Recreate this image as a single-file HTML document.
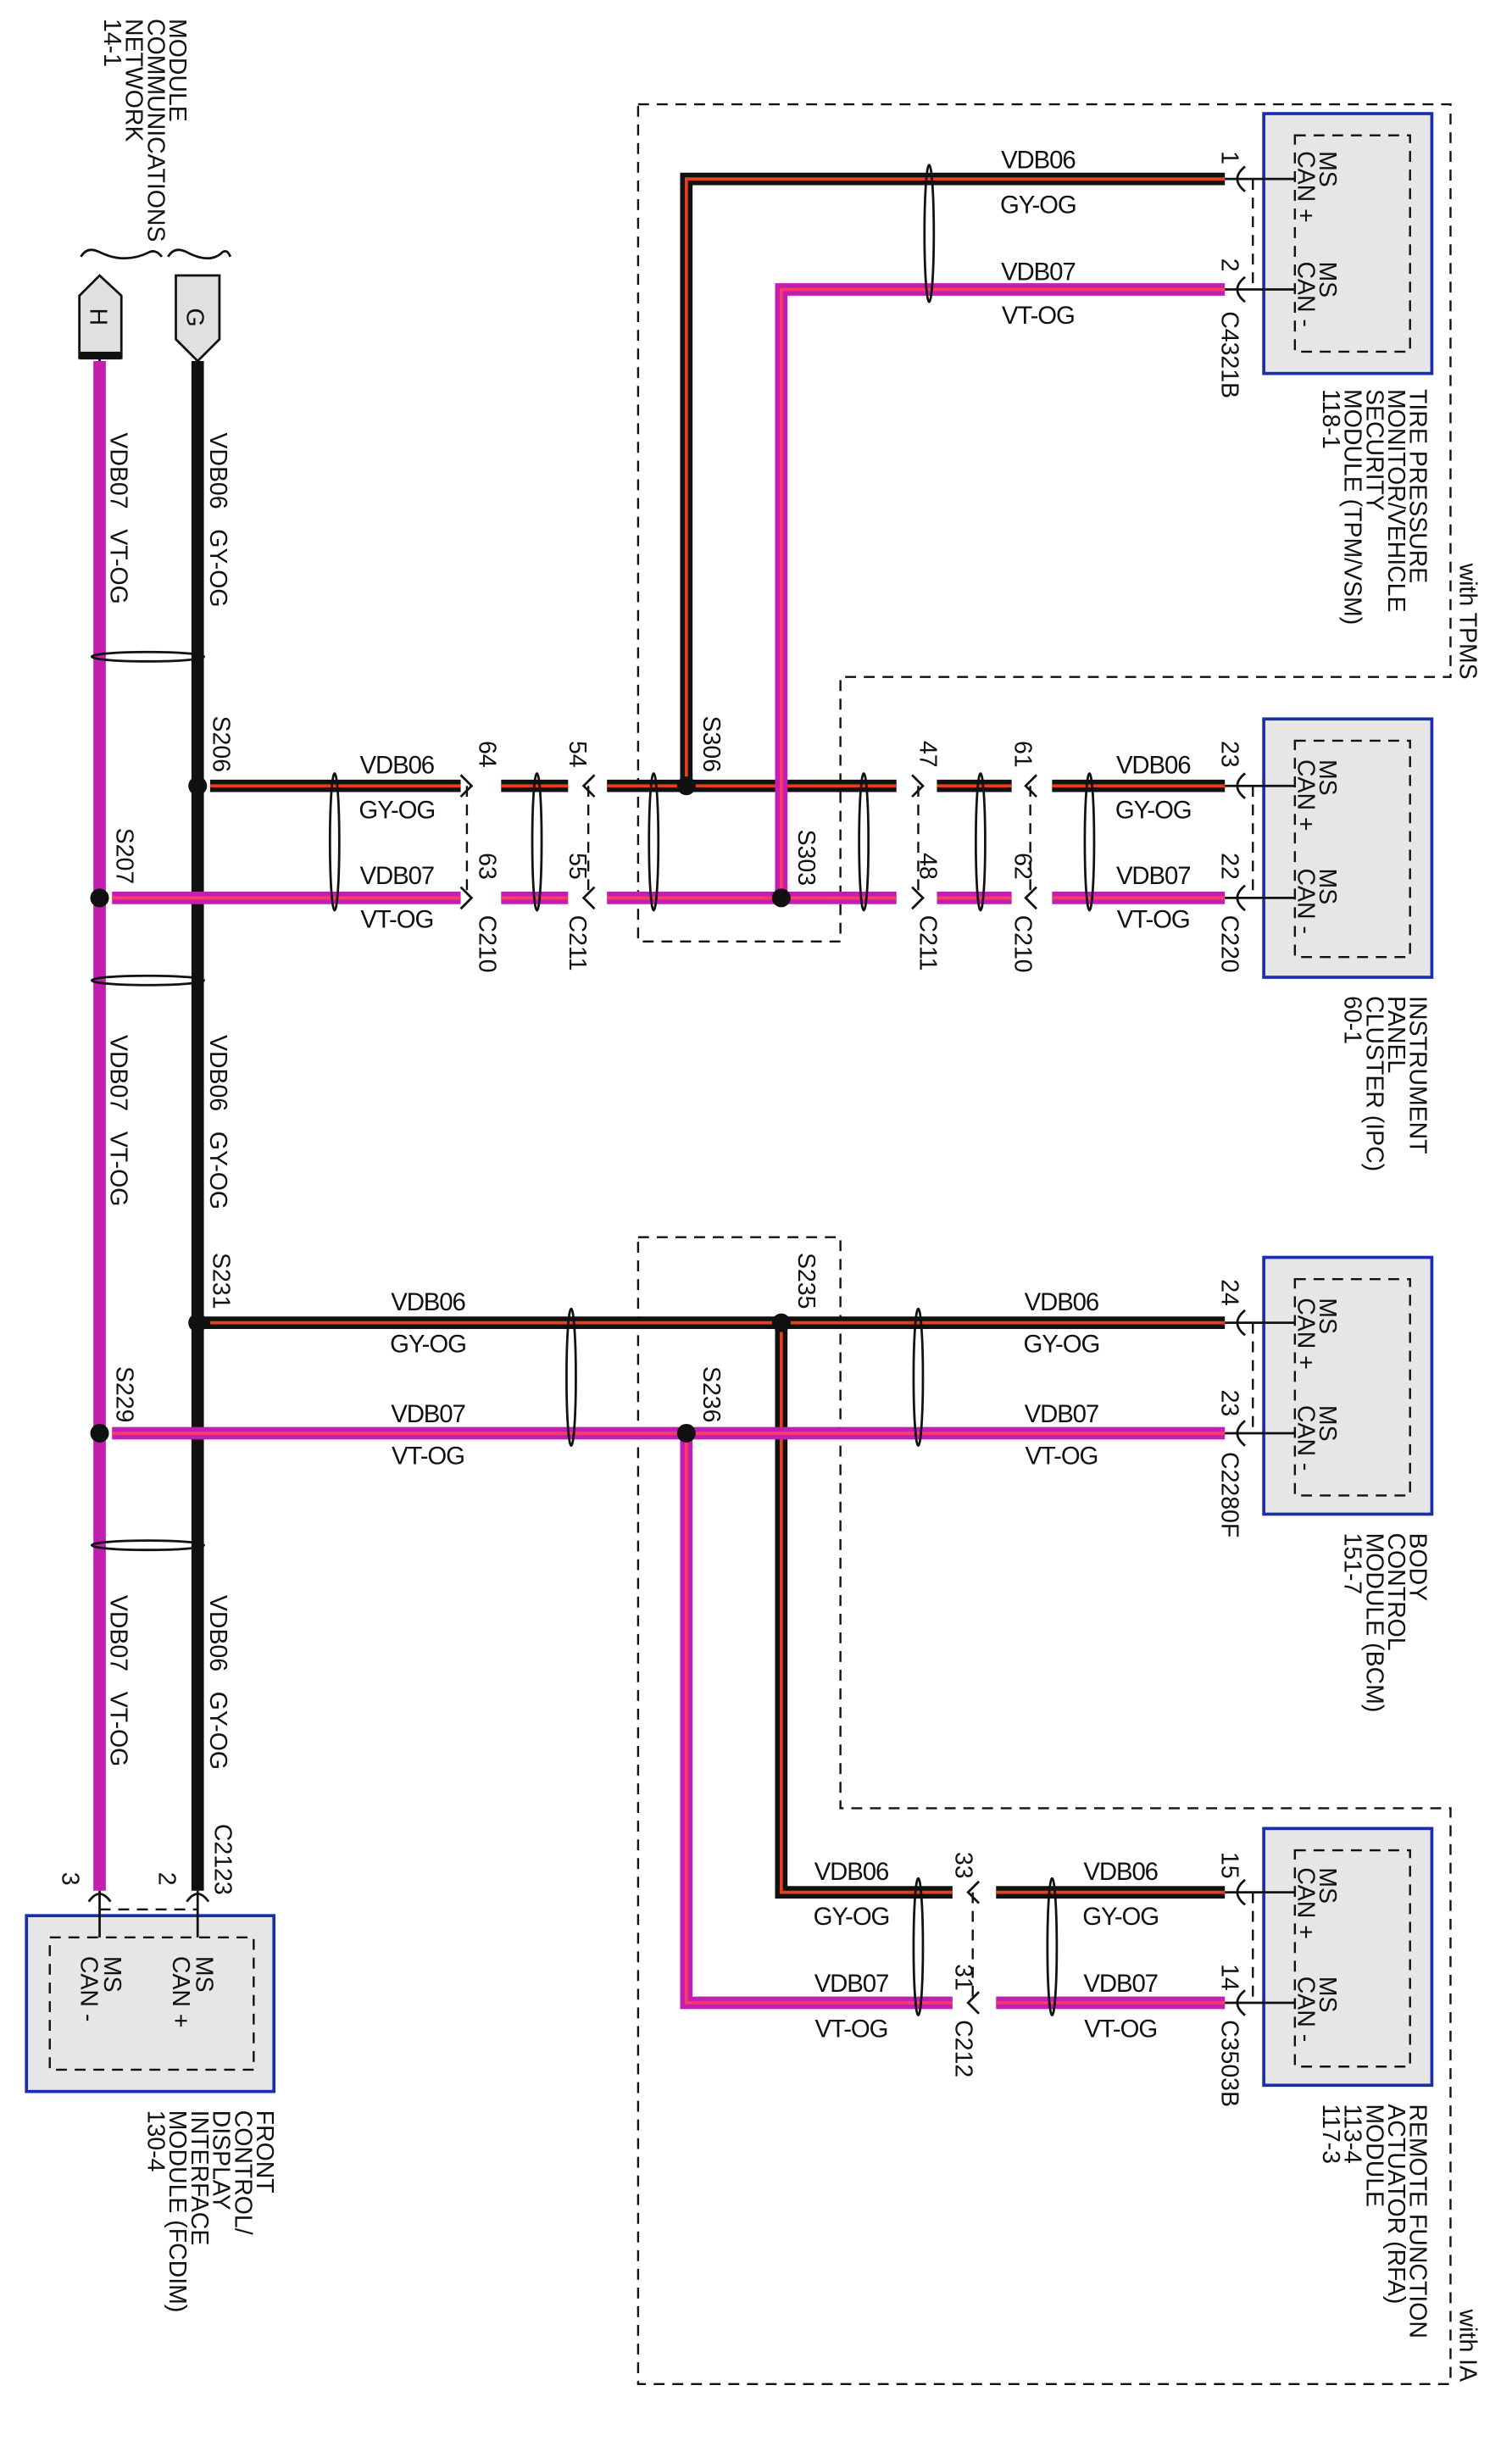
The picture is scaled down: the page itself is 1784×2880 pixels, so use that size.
<!DOCTYPE html>
<html><head><meta charset="utf-8"><style>
html,body{margin:0;padding:0;background:#fff;}
svg{display:block;}
text{font-family:"Liberation Sans",sans-serif;fill:#111;}
.w{font-size:16px;letter-spacing:-0.6px;}
.r{font-size:15.5px;}
</style></head><body>
<svg width="1784" height="2880" viewBox="0 0 971.5 1568.6" preserveAspectRatio="none" xmlns="http://www.w3.org/2000/svg">
<g fill="none" stroke="#111" stroke-width="1.3" stroke-dasharray="7,5">
<path d="M410,67 H932 V435 H540 V605 H410 Z"/>
<path d="M410,795 H540 V1162 H932 V1532 H410 Z"/>
<path d="M300,505 V577 M378,505 V577 M590,505 V577 M662,505 V577 M805,505 V577 M805,115 V186 M805,850 V921 M805,1216 V1287 M625,1216 V1287 M64,1227 H127"/>
</g>
<g fill="#e6e6e6" stroke="#1a2db0" stroke-width="2">
<rect x="812" y="73" width="108" height="167"/>
<rect x="812" y="462" width="108" height="166"/>
<rect x="812" y="808" width="108" height="165"/>
<rect x="812" y="1175" width="108" height="165"/>
<rect x="17" y="1231" width="159" height="113"/>
</g>
<g fill="none" stroke="#111" stroke-width="1.3" stroke-dasharray="7,5">
<rect x="832" y="87" width="74" height="139"/>
<rect x="832" y="476" width="74" height="139"/>
<rect x="832" y="822" width="74" height="139"/>
<rect x="832" y="1189" width="74" height="139"/>
<rect x="32" y="1245" width="131" height="85"/>
</g>
<g fill="none" stroke-linejoin="miter">
<g stroke="#111" stroke-width="8">
<path d="M127,232 V1215"/>
<path d="M135,505 H296 M322,505 H365 M390,505 H576 M602,505 H650 M676,505 H787"/>
<path d="M441,505 V115 H787"/>
<path d="M127,850 H787"/>
<path d="M502,850 V1216 H612 M640,1216 H787"/>
</g>
<g stroke="#e8401c" stroke-width="2">
<path d="M135,505 H296 M322,505 H365 M390,505 H576 M602,505 H650 M676,505 H787"/>
<path d="M441,505 V115 H787"/>
<path d="M135,850 H787"/>
<path d="M502,850 V1216 H612 M640,1216 H787"/>
</g>
<g stroke="#c21fb0" stroke-width="8">
<path d="M64,232 V1215"/>
<path d="M72,577 H296 M322,577 H365 M390,577 H576 M602,577 H650 M676,577 H787"/>
<path d="M502,577 V186 H787"/>
<path d="M72,921 H787"/>
<path d="M441,921 V1287 H612 M640,1287 H787"/>
</g>
<g stroke="#ff3a6a" stroke-width="2">
<path d="M72,577 H296 M322,577 H365 M390,577 H576 M602,577 H650 M676,577 H787"/>
<path d="M502,577 V186 H787"/>
<path d="M72,921 H787"/>
<path d="M441,921 V1287 H612 M640,1287 H787"/>
</g>
</g>
<g stroke="#111" stroke-width="1.5" fill="none">
<path d="M787,115 H832 M787,186 H832 M787,505 H832 M787,577 H832 M787,850 H832 M787,921 H832 M787,1216 H832 M787,1287 H832"/>
<path d="M64,1215 V1245 M127,1215 V1245"/>
<path d="M127,215 V232 M64,215 V232"/>
<path d="M800,107 Q790,115 800,123 M800,178 Q790,186 800,194 M800,497 Q790,505 800,513 M800,569 Q790,577 800,585 M800,842 Q790,850 800,858 M800,913 Q790,921 800,929 M800,1208 Q790,1216 800,1224 M800,1279 Q790,1287 800,1295"/>
<path d="M296,498 L303,505 L296,512 M296,570 L303,577 L296,584 M382,498 L375,505 L382,512 M382,570 L375,577 L382,584 M586,498 L593,505 L586,512 M586,570 L593,577 L586,584 M666,498 L659,505 L666,512 M666,570 L659,577 L666,584 M629,1209 L622,1216 L629,1223 M629,1280 L622,1287 L629,1294"/>
<path d="M57,1222 Q64,1212 71,1222 M120,1222 Q127,1212 134,1222"/>
<ellipse cx="215" cy="541" rx="3" ry="44"/><ellipse cx="345" cy="541" rx="3" ry="44"/>
<ellipse cx="420" cy="541" rx="3" ry="44"/><ellipse cx="555" cy="541" rx="3" ry="44"/>
<ellipse cx="630" cy="541" rx="3" ry="44"/><ellipse cx="700" cy="541" rx="3" ry="44"/>
<ellipse cx="597" cy="150" rx="3" ry="44"/>
<ellipse cx="367" cy="885" rx="3" ry="44"/><ellipse cx="590" cy="885" rx="3" ry="44"/>
<ellipse cx="590" cy="1251" rx="3" ry="44"/><ellipse cx="676" cy="1251" rx="3" ry="44"/>
<ellipse cx="95" cy="422" rx="36" ry="3"/><ellipse cx="95" cy="630" rx="36" ry="3"/><ellipse cx="95" cy="993" rx="36" ry="3"/>
<path d="M52,165 Q56,158 64,162 Q80,170 96,162 Q100,160 104,165 M108,165 Q112,158 120,162 Q135,170 143,162 Q146,160 148,165"/>
</g>
<g fill="#111">
<circle cx="127" cy="505" r="6"/><circle cx="64" cy="577" r="6"/>
<circle cx="441" cy="505" r="6"/><circle cx="502" cy="577" r="6"/>
<circle cx="127" cy="850" r="6"/><circle cx="64" cy="921" r="6"/>
<circle cx="502" cy="850" r="6"/><circle cx="441" cy="921" r="6"/>
</g>
<path d="M113,177 H141 V218 L127,232 L113,218 Z" fill="#e0e0e0" stroke="#111" stroke-width="1.5"/>
<path d="M51,190 L64,177 L78,190 V230 H51 Z" fill="#e0e0e0" stroke="#111" stroke-width="1.5"/>
<rect x="51" y="226" width="27" height="5" fill="#111"/>
<text class="r" transform="translate(120,198) rotate(90)">G</text>
<text class="r" transform="translate(58,198) rotate(90)">H</text>
<g class="w" text-anchor="middle">
<text x="667" y="108">VDB06</text><text x="667" y="137">GY-OG</text>
<text x="667" y="180">VDB07</text><text x="667" y="208">VT-OG</text>
<text x="255" y="497">VDB06</text><text x="255" y="526">GY-OG</text>
<text x="741" y="497">VDB06</text><text x="741" y="526">GY-OG</text>
<text x="255" y="568">VDB07</text><text x="255" y="596">VT-OG</text>
<text x="741" y="568">VDB07</text><text x="741" y="596">VT-OG</text>
<text x="275" y="842">VDB06</text><text x="275" y="869">GY-OG</text>
<text x="682" y="842">VDB06</text><text x="682" y="869">GY-OG</text>
<text x="275" y="914">VDB07</text><text x="275" y="941">VT-OG</text>
<text x="682" y="914">VDB07</text><text x="682" y="941">VT-OG</text>
<text x="547" y="1208">VDB06</text><text x="547" y="1237">GY-OG</text>
<text x="720" y="1208">VDB06</text><text x="720" y="1237">GY-OG</text>
<text x="547" y="1280">VDB07</text><text x="547" y="1309">VT-OG</text>
<text x="720" y="1280">VDB07</text><text x="720" y="1309">VT-OG</text>
</g>
<g class="r">
<text transform="translate(109,12) rotate(90)">MODULE</text>
<text transform="translate(95,12) rotate(90)">COMMUNICATIONS</text>
<text transform="translate(81,12) rotate(90)">NETWORK</text>
<text transform="translate(67,12) rotate(90)">14-1</text>
<text transform="translate(135,278) rotate(90)">VDB06&#160;&#160;&#160;GY-OG</text>
<text transform="translate(71,278) rotate(90)">VDB07&#160;&#160;&#160;VT-OG</text>
<text transform="translate(135,665) rotate(90)">VDB06&#160;&#160;&#160;GY-OG</text>
<text transform="translate(71,665) rotate(90)">VDB07&#160;&#160;&#160;VT-OG</text>
<text transform="translate(135,1025) rotate(90)">VDB06&#160;&#160;&#160;GY-OG</text>
<text transform="translate(71,1025) rotate(90)">VDB07&#160;&#160;&#160;VT-OG</text>
<text transform="translate(137,460) rotate(90)">S206</text>
<text transform="translate(75,532) rotate(90)">S207</text>
<text transform="translate(452,460) rotate(90)">S306</text>
<text transform="translate(513,533) rotate(90)">S303</text>
<text transform="translate(137,805) rotate(90)">S231</text>
<text transform="translate(75,878) rotate(90)">S229</text>
<text transform="translate(513,805) rotate(90)">S235</text>
<text transform="translate(452,878) rotate(90)">S236</text>
<text transform="translate(308,476) rotate(90)">64</text>
<text transform="translate(308,548) rotate(90)">63</text>
<text transform="translate(366,476) rotate(90)">54</text>
<text transform="translate(366,548) rotate(90)">55</text>
<text transform="translate(591,476) rotate(90)">47</text>
<text transform="translate(591,548) rotate(90)">48</text>
<text transform="translate(652,476) rotate(90)">61</text>
<text transform="translate(652,548) rotate(90)">62</text>
<text transform="translate(785,476) rotate(90)">23</text>
<text transform="translate(785,548) rotate(90)">22</text>
<text transform="translate(308,588) rotate(90)">C210</text>
<text transform="translate(366,588) rotate(90)">C211</text>
<text transform="translate(591,588) rotate(90)">C211</text>
<text transform="translate(652,588) rotate(90)">C210</text>
<text transform="translate(785,588) rotate(90)">C220</text>
<text transform="translate(785,97) rotate(90)">1</text>
<text transform="translate(785,166) rotate(90)">2</text>
<text transform="translate(785,200) rotate(90)">C4321B</text>
<text transform="translate(785,822) rotate(90)">24</text>
<text transform="translate(785,893) rotate(90)">23</text>
<text transform="translate(785,933) rotate(90)">C2280F</text>
<text transform="translate(785,1190) rotate(90)">15</text>
<text transform="translate(785,1262) rotate(90)">14</text>
<text transform="translate(785,1298) rotate(90)">C3503B</text>
<text transform="translate(614,1190) rotate(90)">33</text>
<text transform="translate(614,1262) rotate(90)">31</text>
<text transform="translate(614,1298) rotate(90)">C212</text>
<text transform="translate(138,1172) rotate(90)">C2123</text>
<text transform="translate(102,1203) rotate(90)">2</text>
<text transform="translate(40,1203) rotate(90)">3</text>
<text transform="translate(848,97) rotate(90)">MS</text><text transform="translate(834,97) rotate(90)">CAN +</text>
<text transform="translate(848,168) rotate(90)">MS</text><text transform="translate(834,168) rotate(90)">CAN -</text>
<text transform="translate(848,488) rotate(90)">MS</text><text transform="translate(834,488) rotate(90)">CAN +</text>
<text transform="translate(848,558) rotate(90)">MS</text><text transform="translate(834,558) rotate(90)">CAN -</text>
<text transform="translate(848,834) rotate(90)">MS</text><text transform="translate(834,834) rotate(90)">CAN +</text>
<text transform="translate(848,903) rotate(90)">MS</text><text transform="translate(834,903) rotate(90)">CAN -</text>
<text transform="translate(848,1200) rotate(90)">MS</text><text transform="translate(834,1200) rotate(90)">CAN +</text>
<text transform="translate(848,1270) rotate(90)">MS</text><text transform="translate(834,1270) rotate(90)">CAN -</text>
<text transform="translate(126,1257) rotate(90)">MS</text><text transform="translate(111,1257) rotate(90)">CAN +</text>
<text transform="translate(67,1257) rotate(90)">MS</text><text transform="translate(52,1257) rotate(90)">CAN -</text>
<text transform="translate(906,250) rotate(90)">TIRE PRESSURE</text>
<text transform="translate(892,250) rotate(90)">MONITOR/VEHICLE</text>
<text transform="translate(878,250) rotate(90)">SECURITY</text>
<text transform="translate(864,250) rotate(90)">MODULE (TPM/VSM)</text>
<text transform="translate(850,250) rotate(90)">118-1</text>
<text transform="translate(938,362) rotate(90)">with TPMS</text>
<text transform="translate(906,640) rotate(90)">INSTRUMENT</text>
<text transform="translate(892,640) rotate(90)">PANEL</text>
<text transform="translate(878,640) rotate(90)">CLUSTER (IPC)</text>
<text transform="translate(864,640) rotate(90)">60-1</text>
<text transform="translate(906,985) rotate(90)">BODY</text>
<text transform="translate(892,985) rotate(90)">CONTROL</text>
<text transform="translate(878,985) rotate(90)">MODULE (BCM)</text>
<text transform="translate(864,985) rotate(90)">151-7</text>
<text transform="translate(906,1352) rotate(90)">REMOTE FUNCTION</text>
<text transform="translate(892,1352) rotate(90)">ACTUATOR (RFA)</text>
<text transform="translate(878,1352) rotate(90)">MODULE</text>
<text transform="translate(864,1352) rotate(90)">113-4</text>
<text transform="translate(850,1352) rotate(90)">117-3</text>
<text transform="translate(938,1484) rotate(90)">with IA</text>
<text transform="translate(165,1356) rotate(90)">FRONT</text>
<text transform="translate(151,1356) rotate(90)">CONTROL/</text>
<text transform="translate(137,1356) rotate(90)">DISPLAY</text>
<text transform="translate(123,1356) rotate(90)">INTERFACE</text>
<text transform="translate(109,1356) rotate(90)">MODULE (FCDIM)</text>
<text transform="translate(95,1356) rotate(90)">130-4</text>
</g>
</svg>
</body></html>
